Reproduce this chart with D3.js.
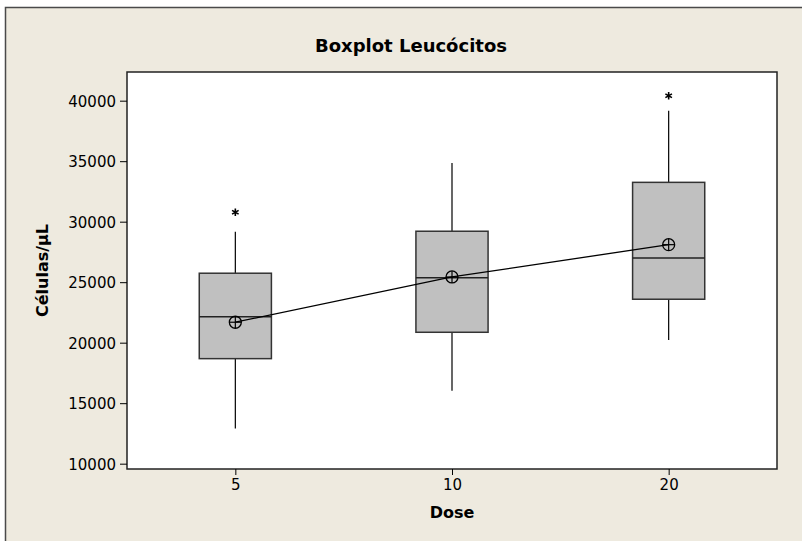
<!DOCTYPE html>
<html>
<head>
<meta charset="utf-8">
<script src="https://cdn.jsdelivr.net/npm/d3@7"></script>
<style>
  html, body { margin: 0; padding: 0; background: #ffffff; }
  svg { display: block; }
  text { font-family: "DejaVu Sans", Verdana, sans-serif; fill: #000; }
</style>
</head>
<body>
<svg id="chart" width="802" height="541"></svg>
<script>
// ---- data ----
const doses = ["5", "10", "20"];
const whiskerLow  = [12900, 16030, 20220];
const q1          = [18680, 20860, 23590];
const medians     = [22150, 25360, 27000];
const q3          = [25740, 29210, 33250];
const whiskerHigh = [29170, 34850, 39170];
const means       = [21690, 25430, 28100];
const outliers    = [{dose: "5", value: 30780}, {dose: "20", value: 40410}];
const yTicks      = [10000, 15000, 20000, 25000, 30000, 35000, 40000];

const title = "Boxplot Leucócitos";
const xTitle = "Dose";
const yTitle = "Células/µL";

// ---- layout ----
const W = 802, H = 541;
const plot = {left: 127, right: 777, top: 72, bottom: 469};

const svg = d3.select("#chart");

// outer background & frame
svg.append("rect").attr("x", 5).attr("y", 7).attr("width", W - 5).attr("height", H - 7)
  .attr("fill", "#EEEADF");
svg.append("path").attr("d", `M5.5,${H} L5.5,7.5 L${W},7.5`)
  .attr("fill", "none").attr("stroke", "#4a4a4a").attr("stroke-width", 1.5);

// plot area
svg.append("rect").attr("x", plot.left).attr("y", plot.top)
  .attr("width", plot.right - plot.left).attr("height", plot.bottom - plot.top)
  .attr("fill", "#ffffff").attr("stroke", "#222").attr("stroke-width", 1.5);

// scales
const x = d3.scalePoint().domain(doses).range([plot.left, plot.right]).padding(0.5);
const y = d3.scaleLinear().domain([9560, 42370]).range([plot.bottom, plot.top]);
const boxW = x.step() * 0.333;

// axes
const yAxis = d3.axisLeft(y).tickValues(yTicks).tickSize(7).tickPadding(4).tickFormat(d3.format("d"));
const gy = svg.append("g").attr("transform", `translate(${plot.left},0)`).call(yAxis);
gy.select(".domain").remove();
gy.selectAll("line").attr("stroke", "#000");
gy.selectAll("text").attr("font-size", 15).attr("font-family", "DejaVu Sans, sans-serif").attr("dy", "0.36em");

const xAxis = d3.axisBottom(x).tickSize(6).tickPadding(4);
const gx = svg.append("g").attr("transform", `translate(0,${plot.bottom})`).call(xAxis);
gx.select(".domain").remove();
gx.selectAll("line").attr("stroke", "#000");
gx.selectAll("text").attr("font-size", 15).attr("font-family", "DejaVu Sans, sans-serif");

// boxes
const data = doses.map((d, i) => ({
  dose: d, lo: whiskerLow[i], q1: q1[i], med: medians[i], q3: q3[i], hi: whiskerHigh[i], mean: means[i]
}));

const g = svg.append("g");
// whiskers
g.selectAll(".wlo").data(data).join("line")
  .attr("x1", d => x(d.dose)).attr("x2", d => x(d.dose))
  .attr("y1", d => y(d.lo)).attr("y2", d => y(d.q1))
  .attr("stroke", "#000").attr("stroke-width", 1.2);
g.selectAll(".whi").data(data).join("line")
  .attr("x1", d => x(d.dose)).attr("x2", d => x(d.dose))
  .attr("y1", d => y(d.q3)).attr("y2", d => y(d.hi))
  .attr("stroke", "#000").attr("stroke-width", 1.2);
// box
g.selectAll(".box").data(data).join("rect")
  .attr("x", d => x(d.dose) - boxW / 2).attr("width", boxW)
  .attr("y", d => y(d.q3)).attr("height", d => y(d.q1) - y(d.q3))
  .attr("fill", "#C0C0C0").attr("stroke", "#333").attr("stroke-width", 1.5);
// median
g.selectAll(".med").data(data).join("line")
  .attr("x1", d => x(d.dose) - boxW / 2).attr("x2", d => x(d.dose) + boxW / 2)
  .attr("y1", d => y(d.med)).attr("y2", d => y(d.med))
  .attr("stroke", "#222").attr("stroke-width", 1.5);

// mean connect line
g.append("path").datum(data)
  .attr("d", d3.line().x(d => x(d.dose)).y(d => y(d.mean)))
  .attr("fill", "none").attr("stroke", "#000").attr("stroke-width", 1.3);

// mean symbols (circle with cross)
const r = 6;
const ms = g.selectAll(".mean").data(data).join("g")
  .attr("transform", d => `translate(${x(d.dose)},${y(d.mean)})`);
ms.append("circle").attr("r", r).attr("fill", "none").attr("stroke", "#000").attr("stroke-width", 1.3);
ms.append("line").attr("x1", -r).attr("x2", r).attr("stroke", "#000").attr("stroke-width", 1.2);
ms.append("line").attr("y1", -r).attr("y2", r).attr("stroke", "#000").attr("stroke-width", 1.2);

// outliers
g.selectAll(".out").data(outliers).join("path")
  .attr("transform", d => `translate(${x(d.dose)},${y(d.value)})`)
  .attr("d", d3.symbol().type(d3.symbolAsterisk).size(40)())
  .attr("fill", "none").attr("stroke", "#000").attr("stroke-width", 1.6);

// titles
svg.append("text").attr("x", 411).attr("y", 52).attr("text-anchor", "middle")
  .attr("font-size", 18).attr("font-weight", "bold").text(title);
svg.append("text").attr("x", (plot.left + plot.right) / 2).attr("y", 518).attr("text-anchor", "middle")
  .attr("font-size", 16).attr("font-weight", "bold").text(xTitle);
svg.append("text").attr("transform", `translate(48,${(plot.top + plot.bottom) / 2}) rotate(-90)`)
  .attr("text-anchor", "middle").attr("font-size", 16).attr("font-weight", "bold").text(yTitle);
</script>
</body>
</html>
